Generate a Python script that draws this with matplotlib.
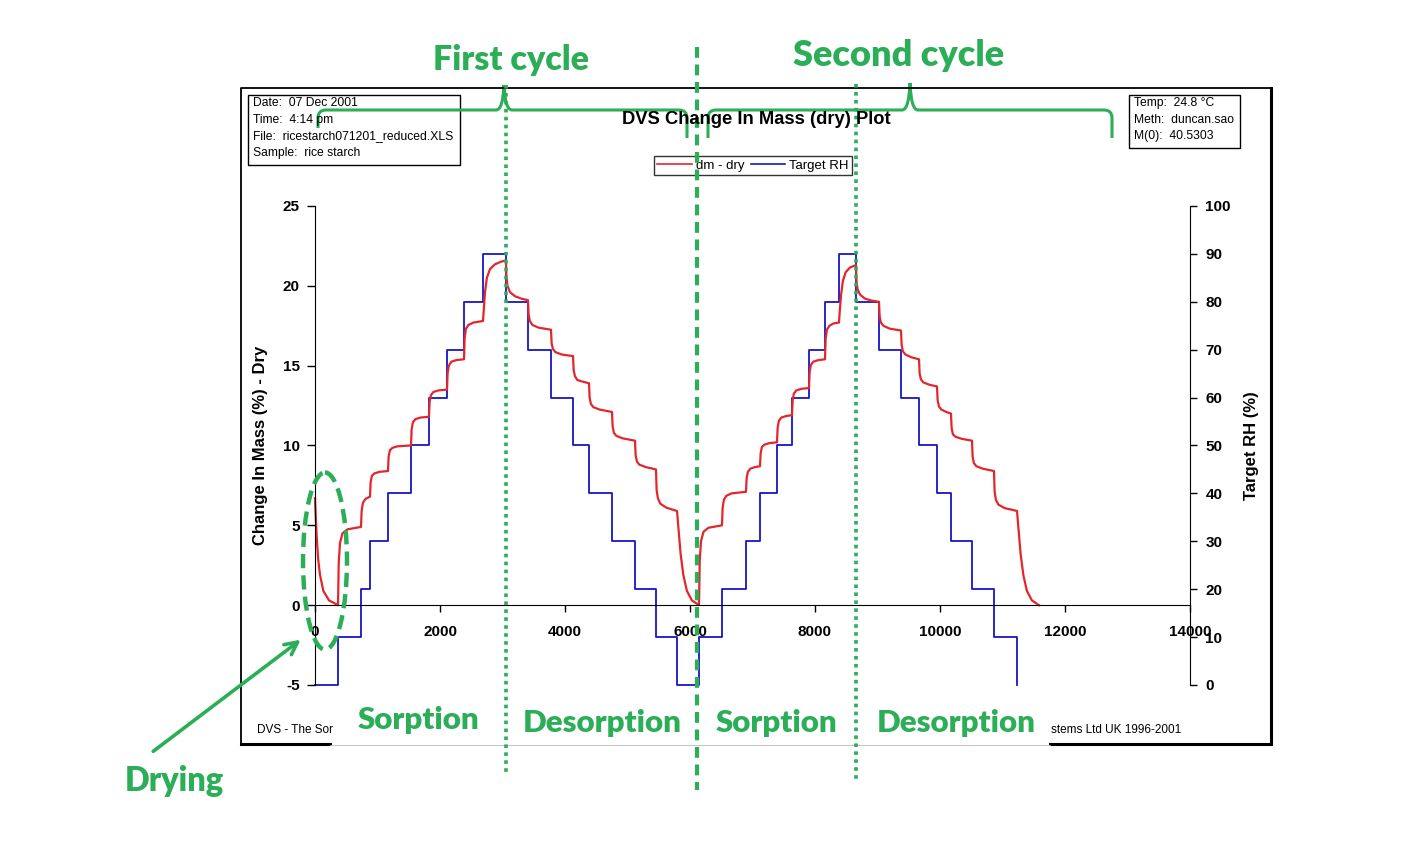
import numpy as np
import matplotlib
matplotlib.use('Agg')
import matplotlib.pyplot as plt
import matplotlib.transforms as mtransforms
from matplotlib.path import Path
from matplotlib.patches import PathPatch, Rectangle, Ellipse
from matplotlib.lines import Line2D

plt.rcParams['font.family'] = ['Liberation Sans', 'DejaVu Sans']
plt.rcParams['axes.unicode_minus'] = False

# target RH steps (minutes, %)
rh_time = [0, 368, 736, 880, 1168, 1536, 1824, 2112, 2384, 2688,
           3056, 3408, 3776, 4128, 4384, 4752, 5120, 5456,
           5792,
           6144, 6512, 6896, 7120, 7392, 7632, 7904, 8160, 8384,
           8656, 9024, 9376, 9664, 9952, 10176, 10512, 10864,
           11232]
rh_level = [0, 10, 20, 30, 40, 50, 60, 70, 80, 90,
            80, 70, 60, 50, 40, 30, 20, 10,
            0,
            10, 20, 30, 40, 50, 60, 70, 80, 90,
            80, 70, 60, 50, 40, 30, 20, 10,
            0]

# change in mass (dry basis)
dm_time = [0, 10, 27, 50, 80, 133, 224, 368,
           380, 400, 440, 520, 736,
           746, 766, 806, 880,
           890, 910, 950, 1030, 1168,
           1178, 1198, 1238, 1318, 1536,
           1546, 1566, 1606, 1686, 1824,
           1834, 1854, 1894, 1974, 2112,
           2122, 2142, 2182, 2262, 2384,
           2394, 2414, 2454, 2534, 2688,
           2700, 2720, 2750, 2800, 2880, 2970, 3056,
           3062, 3080, 3120, 3200, 3300, 3408,
           3418, 3438, 3478, 3578, 3776,
           3786, 3806, 3846, 3946, 4128,
           4138, 4158, 4198, 4280, 4384,
           4394, 4414, 4454, 4554, 4752,
           4762, 4782, 4822, 4922, 5120,
           5130, 5150, 5190, 5290, 5456,
           5466, 5486, 5526, 5626, 5792,
           5805, 5825, 5850, 5893, 5950, 6030, 6144,
           6156, 6176, 6216, 6296, 6512,
           6522, 6542, 6582, 6662, 6896,
           6906, 6926, 6966, 7040, 7120,
           7130, 7150, 7190, 7270, 7392,
           7402, 7422, 7462, 7542, 7632,
           7642, 7662, 7702, 7782, 7904,
           7914, 7934, 7974, 8054, 8160,
           8170, 8190, 8230, 8300, 8384,
           8396, 8416, 8446, 8490, 8560, 8656,
           8662, 8680, 8720, 8800, 8900, 9024,
           9034, 9054, 9094, 9194, 9376,
           9386, 9406, 9446, 9546, 9664,
           9674, 9694, 9734, 9834, 9952,
           9962, 9982, 10022, 10100, 10176,
           10186, 10206, 10246, 10346, 10512,
           10522, 10542, 10582, 10682, 10864,
           10874, 10894, 10934, 11034, 11232,
           11245, 11265, 11290, 11333, 11390, 11470, 11584]
dm_value = [6.7, 5.7, 4.3, 2.9, 1.9, 0.9, 0.3, 0.0,
            2.7, 3.9, 4.5, 4.75, 4.9,
            5.9, 6.4, 6.65, 6.8,
            7.7, 8.1, 8.25, 8.35, 8.4,
            9.3, 9.7, 9.85, 9.95, 10.0,
            11.0, 11.45, 11.65, 11.75, 11.8,
            12.75, 13.15, 13.35, 13.45, 13.5,
            14.55, 15.0, 15.25, 15.35, 15.4,
            16.7, 17.3, 17.55, 17.7, 17.8,
            18.5, 19.6, 20.5, 21.05, 21.35, 21.5, 21.6,
            20.6, 20.0, 19.6, 19.35, 19.2, 19.1,
            18.2, 17.8, 17.55, 17.38, 17.25,
            16.4, 16.05, 15.85, 15.7, 15.6,
            14.75, 14.35, 14.1, 14.0, 13.9,
            13.0, 12.6, 12.4, 12.25, 12.1,
            11.2, 10.8, 10.6, 10.45, 10.3,
            9.4, 9.0, 8.8, 8.65, 8.5,
            7.2, 6.7, 6.35, 6.1, 5.9,
            5.3, 4.3, 3.2, 1.9, 0.9, 0.3, 0.0,
            2.8, 4.0, 4.6, 4.85, 5.0,
            6.1, 6.6, 6.85, 7.0, 7.1,
            7.95, 8.35, 8.55, 8.65, 8.7,
            9.5, 9.9, 10.05, 10.15, 10.2,
            11.1, 11.55, 11.75, 11.85, 11.9,
            12.8, 13.25, 13.45, 13.55, 13.6,
            14.6, 15.05, 15.25, 15.35, 15.4,
            16.65, 17.25, 17.5, 17.65, 17.7,
            18.4, 19.4, 20.3, 20.85, 21.15, 21.3,
            20.4, 19.8, 19.45, 19.2, 19.08, 19.0,
            18.1, 17.7, 17.5, 17.32, 17.2,
            16.3, 15.9, 15.7, 15.52, 15.4,
            14.5, 14.15, 13.95, 13.8, 13.7,
            12.85, 12.45, 12.25, 12.1, 12.0,
            11.1, 10.7, 10.55, 10.42, 10.3,
            9.3, 8.9, 8.7, 8.55, 8.4,
            7.1, 6.6, 6.3, 6.08, 5.9,
            5.3, 4.3, 3.2, 1.9, 0.9, 0.3, 0.0]

# where the cycles split (minutes)
cycle_marks = [3056, 6112, 8656]

info_left = ['Date:  07 Dec 2001', 'Time:  4:14 pm',
             'File:  ricestarch071201_reduced.XLS', 'Sample:  rice starch']
info_right = ['Temp:  24.8 °C', 'Meth:  duncan.sao', 'M(0):  40.5303']

W, H = 1408, 842
green = '#2BAE57'
red = '#E3262B'
blue = '#1616C8'

fig = plt.figure(figsize=(W / 100, H / 100), dpi=100)
ax = fig.add_axes([315 / W, (H - 685) / H, 875 / W, 479 / H])
ax2 = ax.twinx()
ax.set_zorder(ax2.get_zorder() + 1)
ax.patch.set_visible(False)

ax2.plot(rh_time, rh_level, drawstyle='steps-post', color=blue, lw=1.3, clip_on=False)
ax.plot(dm_time, dm_value, color=red, lw=1.6, clip_on=False)

ax.set_xlim(0, 14000)
ax.set_ylim(-5, 25)
ax2.set_ylim(0, 100)
ax.set_xticks(np.arange(0, 14001, 2000))
ax.set_yticks(np.arange(-5, 26, 5))
ax2.set_yticks(np.arange(0, 101, 10))

for s in ['top', 'right']:
    ax.spines[s].set_visible(False)
ax.spines['bottom'].set_position(('data', 0))
for s in ['top', 'left', 'bottom']:
    ax2.spines[s].set_visible(False)
ax2.tick_params(axis='x', bottom=False, labelbottom=False)

ax.tick_params(axis='x', direction='out', length=5, width=1, pad=9, labelsize=11)
ax.tick_params(axis='y', direction='out', length=6, width=1, pad=5, labelsize=11)
ax2.tick_params(axis='y', direction='out', length=5, width=1, pad=6, labelsize=11)
for lab in ax.get_xticklabels() + ax.get_yticklabels() + ax2.get_yticklabels():
    lab.set_fontweight('bold')

ax.set_ylabel('Change In Mass (%) - Dry', fontsize=12, fontweight='bold')
ax.yaxis.set_label_coords(-0.054, 0.5)
ax2.set_ylabel('Target RH (%)', fontsize=12, fontweight='bold')
ax2.yaxis.set_label_coords(1.062, 0.5)

handles = [Line2D([], [], color=red, lw=1.2), Line2D([], [], color=blue, lw=1.2)]
leg = fig.legend(handles, ['dm - dry', 'Target RH'], loc='center',
                 bbox_to_anchor=(753 / W, 1 - 165.5 / H), ncol=2, fontsize=9.5,
                 handlelength=2.6, handletextpad=0.3, columnspacing=0.5,
                 borderpad=0.25, fancybox=False, edgecolor='black')
leg.get_frame().set_linewidth(1)

# overlay in pixel coordinates for the frame and the annotations
ov = fig.add_axes([0, 0, 1, 1])
ov.set_xlim(0, W)
ov.set_ylim(H, 0)
ov.axis('off')
ov.set_zorder(10)
ov.patch.set_visible(False)

k = dict(color='black', solid_capstyle='projecting')
ov.plot([241, 241, 1271, 1271], [744, 88, 88, 744], lw=1.3, **k)
ov.plot([1271, 1271], [88, 744], lw=2.2, **k)
ov.plot([241, 330], [744, 744], lw=2.2, **k)
ov.plot([1050, 1271], [744, 744], lw=2.2, **k)
ov.plot([330, 1050], [745, 745], lw=0.6, color='#bbbbbb')

ov.add_patch(Rectangle((248, 95), 212, 70, fill=False, lw=1, ec='black'))
for i, t in enumerate(info_left):
    ov.text(253, 103 + i * 16.7, t, fontsize=8.7, va='center', ha='left')
ov.add_patch(Rectangle((1129, 95), 111, 53, fill=False, lw=1, ec='black'))
for i, t in enumerate(info_right):
    ov.text(1134, 103 + i * 16.7, t, fontsize=8.7, va='center', ha='left')

ov.text(756, 120, 'DVS Change In Mass (dry) Plot', fontsize=13.2, fontweight='bold',
        ha='center', va='center')
ov.text(257, 730, 'DVS - The Sor', fontsize=8.5, ha='left', va='center')
ov.text(1051, 730, 'stems Ltd UK 1996-2001', fontsize=8.5, ha='left', va='center')

# green cycle separators, x in data units
bt = mtransforms.blended_transform_factory(ax.transData, ov.transData)
ov.plot([cycle_marks[0]] * 2, [85, 776], transform=bt, color=green, lw=2.6,
        dashes=(1.0, 1.2), dash_capstyle='butt')
ov.plot([cycle_marks[1]] * 2, [47, 790], transform=bt, color=green, lw=3.0,
        dashes=(2.6, 1.6), dash_capstyle='butt')
ov.plot([cycle_marks[2]] * 2, [84, 780], transform=bt, color=green, lw=2.6,
        dashes=(1.0, 1.2), dash_capstyle='butt')


def brace(x0, x1, xt, ybar, ytip, yend0, yend1, r=8):
    verts = [(x0, yend0), (x0, ybar + r), (x0, ybar), (x0 + r, ybar),
             (xt - r, ybar), (xt - 1, ybar), (xt, ytip),
             (xt + 1, ybar), (xt + r, ybar),
             (x1 - r, ybar), (x1, ybar), (x1, ybar + r), (x1, yend1)]
    codes = [Path.MOVETO, Path.LINETO, Path.CURVE3, Path.CURVE3,
             Path.LINETO, Path.CURVE3, Path.CURVE3, Path.CURVE3, Path.CURVE3,
             Path.LINETO, Path.CURVE3, Path.CURVE3, Path.LINETO]
    ov.add_patch(PathPatch(Path(verts, codes), fill=False, ec=green, lw=2.2))


brace(318, 687, 504, 110, 85, 128, 138)
brace(708, 1112, 910, 110, 83, 138, 138)

ov.add_patch(Ellipse((325, 561), 44, 177, fill=False, ec=green, lw=3.2,
                     linestyle=(0, (3.2, 1.6))))
ov.annotate('', xy=(303, 638), xytext=(151, 753),
            arrowprops=dict(arrowstyle='->,head_length=0.9,head_width=0.45',
                            lw=2.6, color=green))

tk = dict(color=green, fontweight='heavy', family=['Lato', 'DejaVu Sans'],
          ha='center', va='center')
ov.text(511, 60, 'First cycle', fontsize=24.5, **tk)
ov.text(899, 56, 'Second cycle', fontsize=26, **tk)
ov.text(418, 720, 'Sorption', fontsize=22.5, **tk)
ov.text(602, 723, 'Desorption', fontsize=22.5, **tk)
ov.text(776, 723, 'Sorption', fontsize=22.5, **tk)
ov.text(956, 723, 'Desorption', fontsize=22.5, **tk)
ov.text(174, 781, 'Drying', fontsize=23.5, **tk)

fig.savefig('out.png', dpi=100)
